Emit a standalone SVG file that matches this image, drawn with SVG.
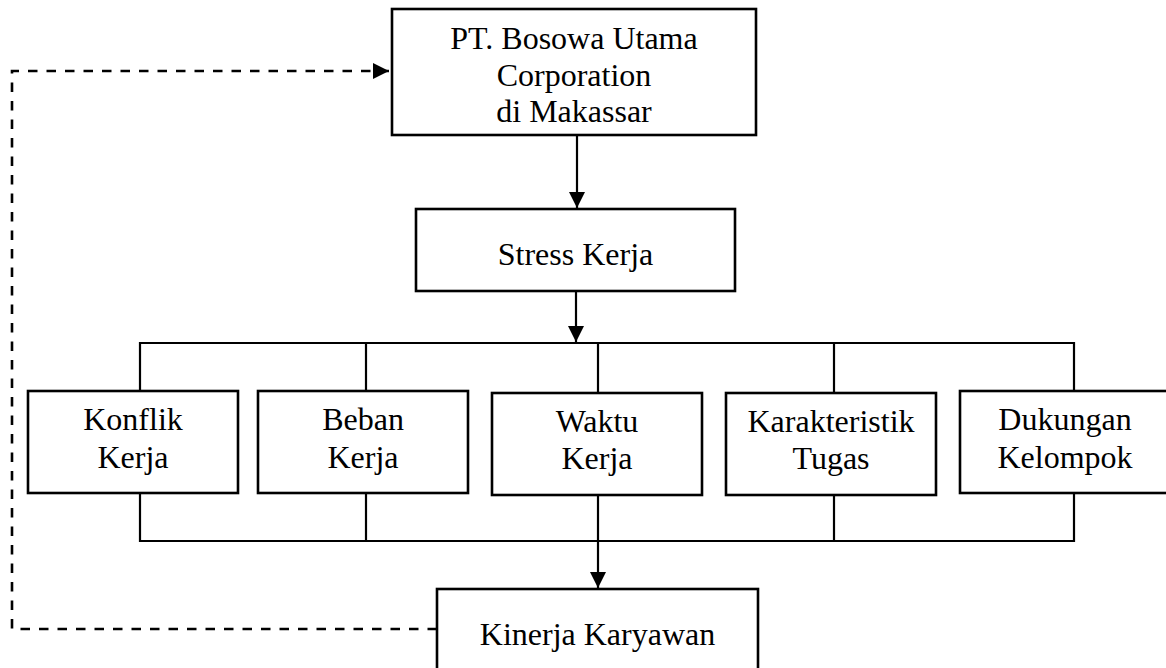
<svg xmlns="http://www.w3.org/2000/svg" width="1166" height="668" viewBox="0 0 1166 668">
<style>
.box{fill:#fff;stroke:#000;stroke-width:2.6}
.t{font-family:"Liberation Serif","Times New Roman",serif;font-size:32px;fill:#000;text-anchor:middle}
.ln{fill:none;stroke:#000;stroke-width:2.2}
.dash{fill:none;stroke:#000;stroke-width:2.6;stroke-dasharray:9.5 9}
</style>
<defs>
<marker id="ah" markerUnits="userSpaceOnUse" markerWidth="16" markerHeight="16" viewBox="0 0 15 15" refX="15" refY="7.5" orient="auto">
<path d="M0,0 L15,7.5 L0,15 Z" fill="#000" stroke="none"/>
</marker>
</defs>
<rect width="1166" height="668" fill="#fff"/>
<g id="connectors">
<line class="ln" x1="577" y1="136" x2="577" y2="208" marker-end="url(#ah)"/>
<line class="ln" x1="576" y1="292" x2="576" y2="342" marker-end="url(#ah)"/>
<polyline class="ln" points="140,391 140,343 1074,343 1074,391"/>
<line class="ln" x1="366" y1="343" x2="366" y2="391"/>
<line class="ln" x1="598" y1="343" x2="598" y2="393"/>
<line class="ln" x1="834" y1="343" x2="834" y2="393"/>
<polyline class="ln" points="140,493 140,541 1074,541 1074,493"/>
<line class="ln" x1="366" y1="493" x2="366" y2="541"/>
<line class="ln" x1="834" y1="495" x2="834" y2="541"/>
<line class="ln" x1="598" y1="495" x2="598" y2="588" marker-end="url(#ah)"/>
<polyline class="dash" points="437,629 12,629 12,71 389,71" marker-end="url(#ah)"/>
</g>
<g id="n-bosowa">
<rect class="box" x="392" y="9" width="364" height="126"/>
<text class="t" x="574" y="49">PT. Bosowa Utama</text>
<text class="t" x="574" y="86">Corporation</text>
<text class="t" x="574" y="122">di Makassar</text>
</g>
<g id="n-stress">
<rect class="box" x="416" y="209" width="319" height="82"/>
<text class="t" x="575.5" y="265">Stress Kerja</text>
</g>
<g id="n-konflik">
<rect class="box" x="28" y="391" width="210" height="102"/>
<text class="t" x="133" y="430">Konflik</text>
<text class="t" x="133" y="468">Kerja</text>
</g>
<g id="n-beban">
<rect class="box" x="258" y="391" width="210" height="102"/>
<text class="t" x="363" y="430">Beban</text>
<text class="t" x="363" y="468">Kerja</text>
</g>
<g id="n-waktu">
<rect class="box" x="492" y="393" width="210" height="102"/>
<text class="t" x="597" y="431.5">Waktu</text>
<text class="t" x="597" y="469">Kerja</text>
</g>
<g id="n-karakteristik">
<rect class="box" x="726" y="393" width="210" height="102"/>
<text class="t" x="831" y="431.5">Karakteristik</text>
<text class="t" x="831" y="469">Tugas</text>
</g>
<g id="n-dukungan">
<rect class="box" x="960" y="391" width="210" height="102"/>
<text class="t" x="1065" y="430">Dukungan</text>
<text class="t" x="1065" y="467.5">Kelompok</text>
</g>
<g id="n-kinerja">
<rect class="box" x="437" y="589" width="321" height="90"/>
<text class="t" x="597.5" y="645">Kinerja Karyawan</text>
</g>
</svg>
